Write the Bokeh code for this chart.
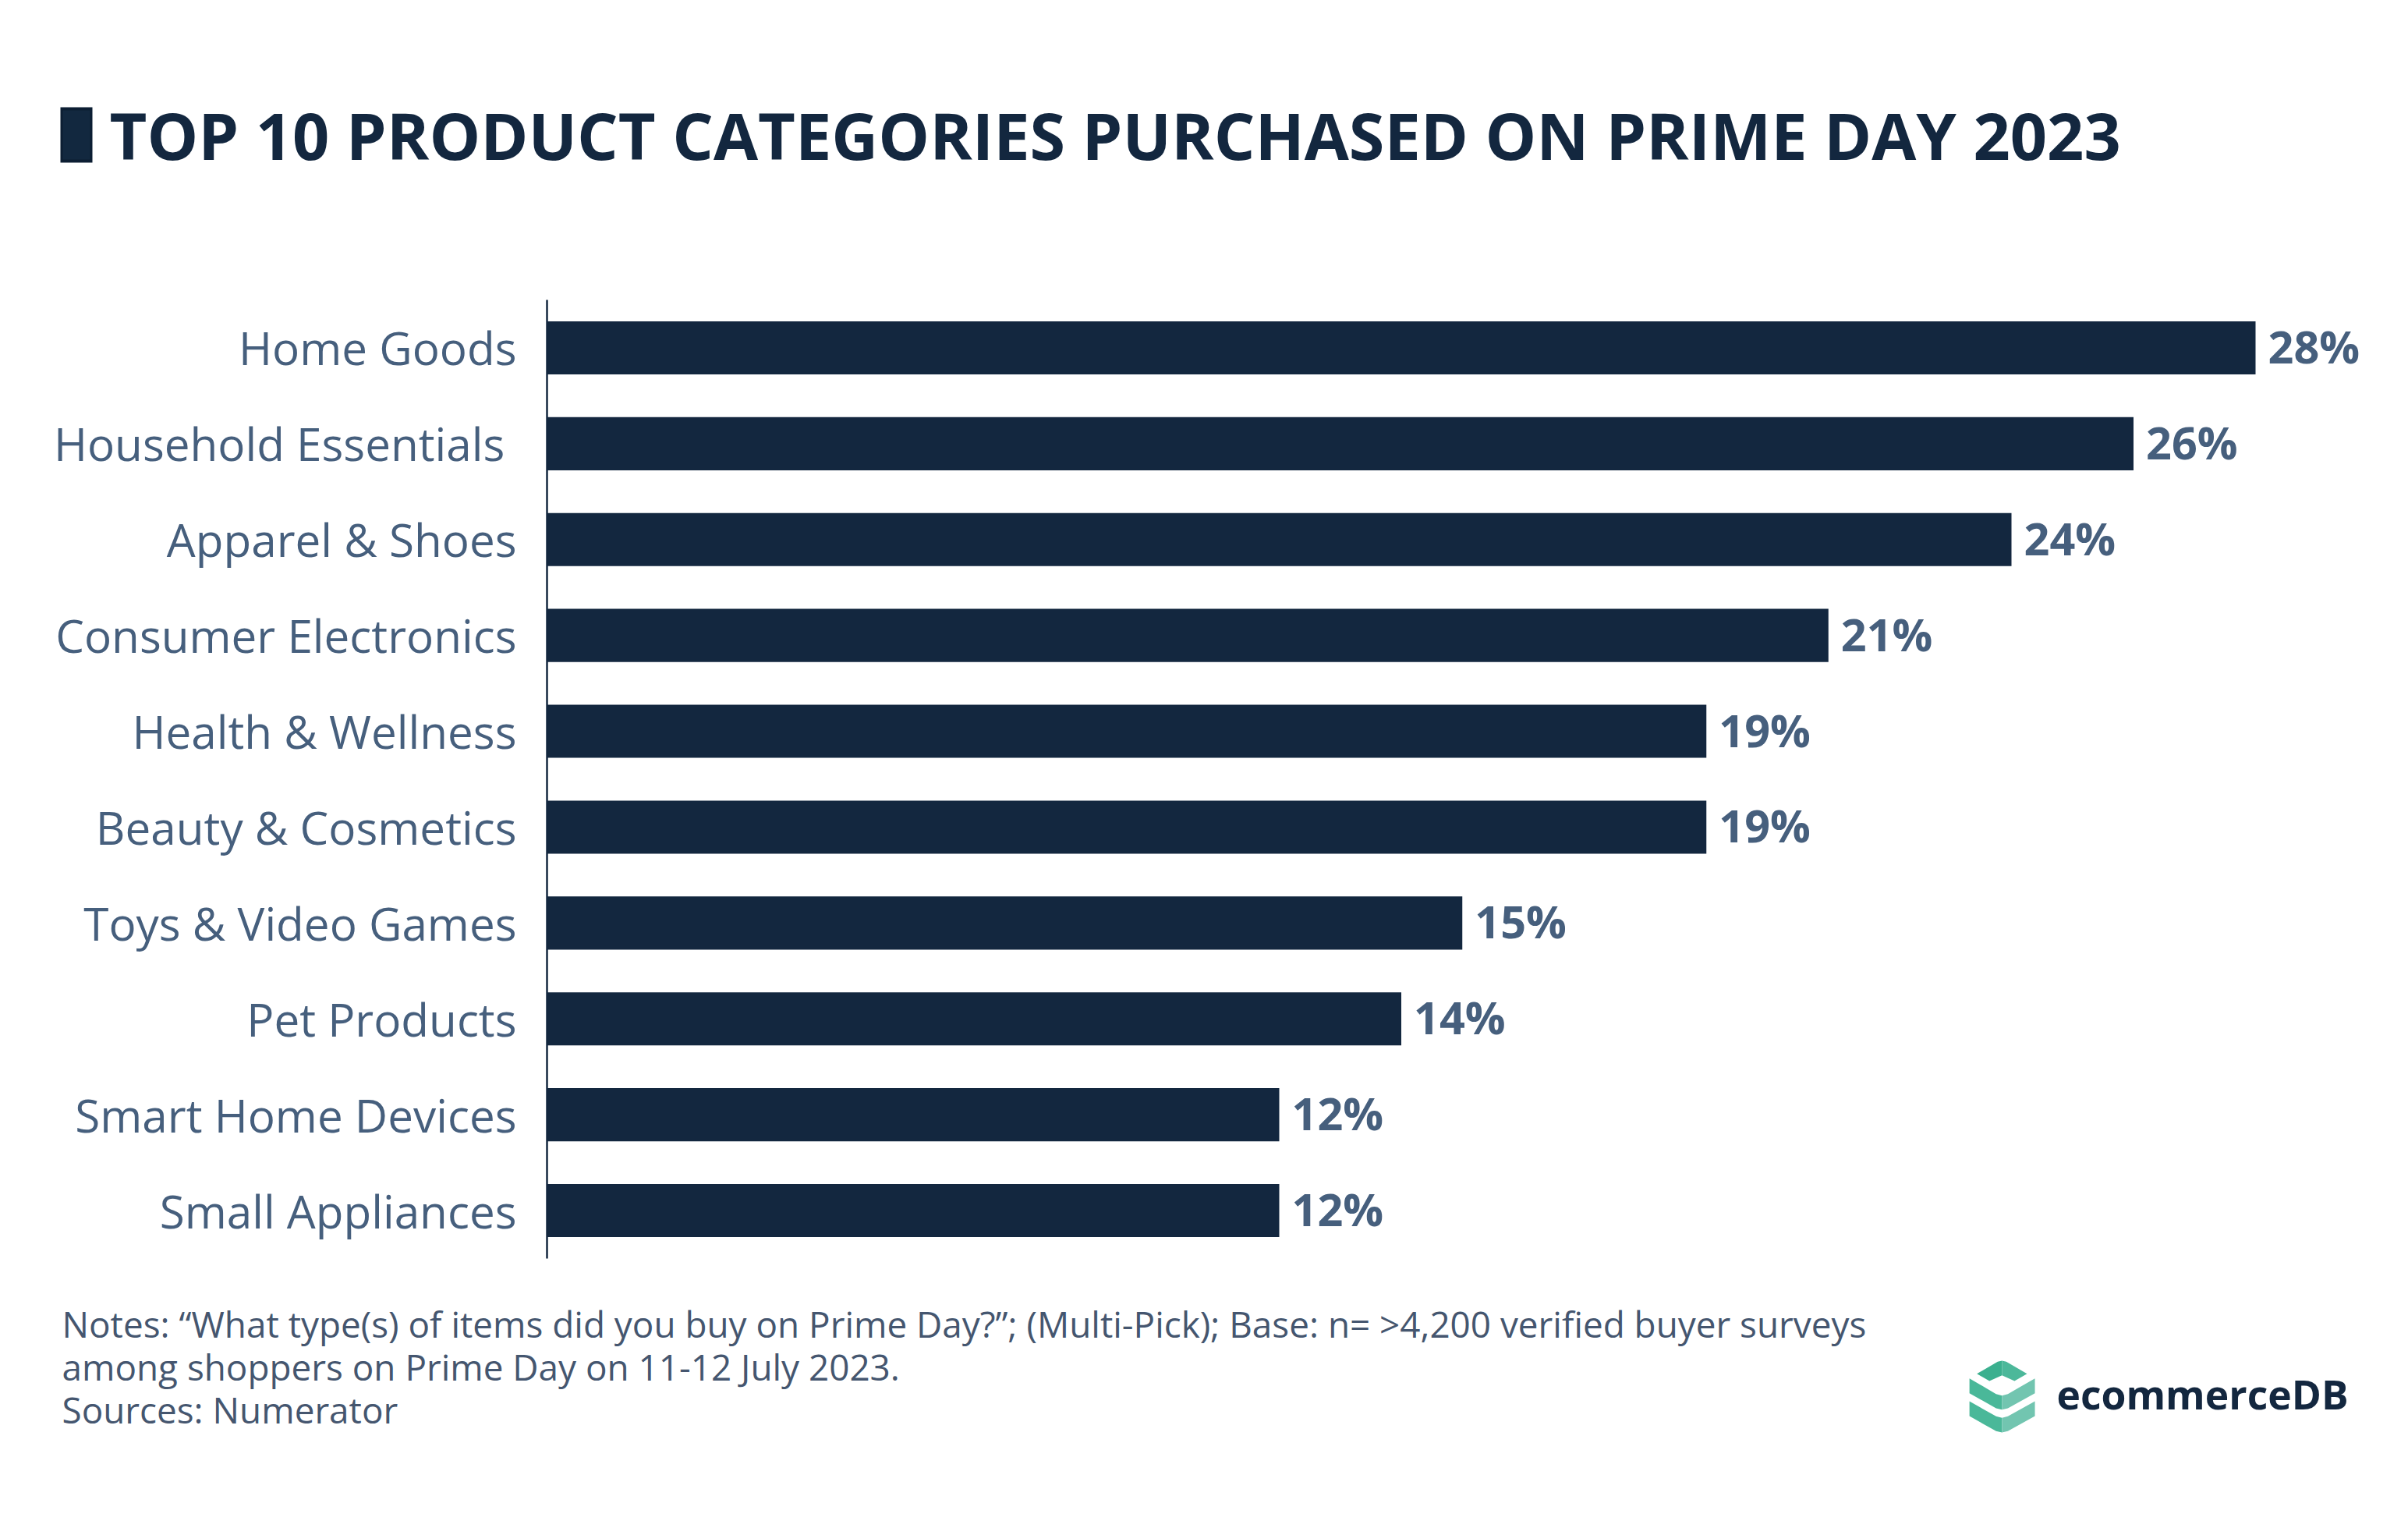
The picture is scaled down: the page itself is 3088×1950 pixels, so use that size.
from bokeh.embed import file_html
from bokeh.resources import INLINE
from bokeh.plotting import figure
from bokeh.layouts import column
from bokeh.core.properties import value
from bokeh.models import ColumnDataSource, FactorRange, Range1d

categories = ["Home Goods", "Household Essentials ", "Apparel & Shoes", "Consumer Electronics",
              "Health & Wellness", "Beauty & Cosmetics", "Toys & Video Games", "Pet Products",
              "Smart Home Devices", "Small Appliances"]
values = [28, 26, 24, 21, 19, 19, 15, 14, 12, 12]
value_labels = [f"{v}%" for v in values]

title_text = "TOP 10 PRODUCT CATEGORIES PURCHASED ON PRIME DAY 2023"
note_lines = ["Notes: \u201cWhat type(s) of items did you buy on Prime Day?\u201d; (Multi-Pick); Base: n= >4,200 verified buyer surveys",
              "among shoppers on Prime Day on 11-12 July 2023.",
              "Sources: Numerator"]
brand = "ecommerceDB"

NAVY = "#13273f"
SLATE = "#465f7d"
NOTE = "#45566f"
FONT = "Open Sans"

W = 3072
HEAD_H = 360
FOOT_T = 1630
TOTAL_H = 1934
F_L, F_T, F_B = 701, 384, 1613
PX_PER_UNIT = 78.25


def canvas(top, bottom):
    f = figure(width=W, height=bottom - top, output_backend="svg", toolbar_location=None,
               x_range=Range1d(0, W), y_range=Range1d(bottom, top),
               x_axis_type=None, y_axis_type=None, frame_align=False,
               min_border=0, outline_line_color=None,
               background_fill_color="white", border_fill_color="white")
    f.grid.visible = False
    return f


def txt(f, text, x, y, size, color, bold=False):
    f.text(x=[x], y=[y], text=[text], text_font=value(FONT), text_font_size=value(f"{size}px"),
           text_color=color, text_font_style="bold" if bold else "normal",
           text_align="left", text_baseline="alphabetic")


# header
head = canvas(0, HEAD_H)
head.patch([77, 118, 118, 77], [137, 137, 208, 208], fill_color="#0c1e33", line_color=None)
head.patch([80, 115, 115, 80], [141, 141, 204, 204], fill_color="#12283f", line_color=None)
txt(head, title_text, 140, 172, 82.75, NAVY, bold=True)

# chart
p = figure(width=W, height=FOOT_T - HEAD_H, output_backend="svg", toolbar_location=None,
           y_range=FactorRange(factors=categories[::-1], range_padding=0, factor_padding=0),
           x_range=Range1d(0, (W - F_L) / PX_PER_UNIT), frame_align=False,
           min_border_left=F_L, min_border_right=0,
           min_border_top=F_T - HEAD_H, min_border_bottom=FOOT_T - F_B,
           outline_line_color=None, background_fill_color="white", border_fill_color="white")
p.grid.visible = False
p.xaxis.visible = False
ax = p.yaxis[0]
ax.major_tick_line_color = None
ax.minor_tick_line_color = None
ax.axis_line_color = NAVY
ax.axis_line_width = 2.5
ax.major_label_text_font = FONT
ax.major_label_text_font_size = "58.4px"
ax.major_label_text_color = SLATE
ax.major_label_text_line_height = 0.8
ax.major_label_standoff = 33

src = ColumnDataSource(dict(cat=categories, val=values, lab=value_labels))
p.hbar(y="cat", right="val", left=0, height=0.554, source=src, fill_color=NAVY, line_color=None)
p.text(x="val", y="cat", text="lab", source=src, x_offset=16, y_offset=-2,
       text_font=value(FONT), text_font_style="bold", text_font_size=value("57.5px"), text_color=SLATE,
       text_align="left", text_baseline="alphabetic")

# footer
foot = canvas(FOOT_T, TOTAL_H)
for i, line in enumerate(note_lines):
    txt(foot, line, 79, 1696 + 55 * i, 45.85, NOTE)


def zx(v):
    return 2300 + v / 1.99


def zy(v):
    return 1600 + v / 3


def zpoly(pts, color):
    foot.patch([zx(a) for a, _ in pts], [zy(b) for _, b in pts], fill_color=color, line_color=None)


zpoly([(467, 482), (520, 436), (531, 432), (531, 488), (499, 510)], "#3bb08f")
zpoly([(595, 482), (542, 436), (531, 432), (531, 488), (563, 510)], "#4cb89a")
zpoly([(448, 500), (516, 560), (531, 566), (531, 620), (516, 615), (448, 557)], "#4ab899")
zpoly([(615, 500), (546, 560), (531, 566), (531, 620), (546, 615), (615, 557)], "#72c5b0")
zpoly([(448, 588), (516, 646), (531, 652), (531, 708), (516, 703), (448, 645)], "#4ab899")
zpoly([(615, 588), (546, 646), (531, 652), (531, 708), (546, 703), (615, 645)], "#72c5b0")
txt(foot, brand, 2637, 1786, 51.6, NAVY, bold=True)

layout = column(head, p, foot, spacing=0)
open("out.html", "w").write(file_html(layout, INLINE))
